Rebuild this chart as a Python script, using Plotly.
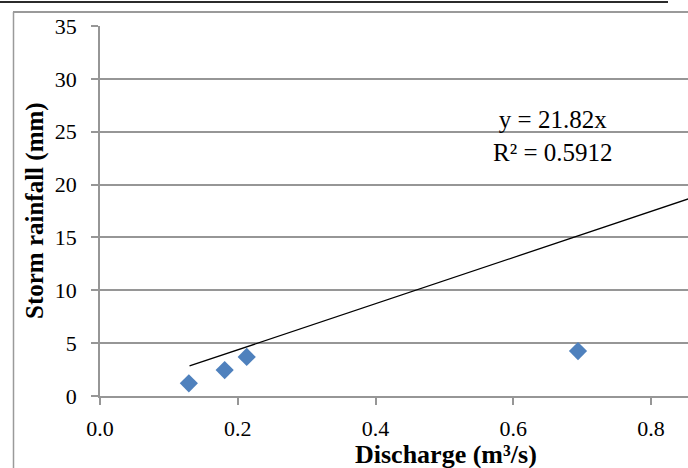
import plotly.graph_objects as go

# Data
discharge = [0.129, 0.181, 0.213, 0.694]
rainfall = [1.2, 2.45, 3.7, 4.25]
trend_x = [0.13, 0.86]
trend_y = [2.84, 18.77]
eq_text = "y = 21.82x<br>R² = 0.5912"
x_ticks = [0.0, 0.2, 0.4, 0.6, 0.8]
y_ticks = [0, 5, 10, 15, 20, 25, 30, 35]

W, H = 688, 468
L, R, T, B = 100, 0, 26, 72
pw, ph = W - L - R, H - T - B

def px_x(p):
    return (p - L) / pw

def px_y(p):
    return (H - B - p) / ph

font_family = "Liberation Serif, Times New Roman, serif"
grid_col = "#969696"

fig = go.Figure()
fig.add_trace(go.Scatter(
    x=trend_x, y=trend_y, mode="lines",
    line=dict(color="#000000", width=1.3),
    showlegend=False, hoverinfo="skip"))
fig.add_trace(go.Scatter(
    x=discharge, y=rainfall, mode="markers",
    marker=dict(symbol="diamond", size=14, color="#4F81BD",
                line=dict(width=0)),
    showlegend=False))

fig.update_layout(
    width=W, height=H,
    margin=dict(l=L, r=R, t=T, b=B, pad=0),
    paper_bgcolor="white", plot_bgcolor="white",
    font=dict(family=font_family, color="#000000", size=22),
    xaxis=dict(range=[0, 0.8537], tickvals=x_ticks, tickformat=".1f",
               showgrid=False, zeroline=False, showline=True,
               linecolor=grid_col, linewidth=1.5,
               ticks="outside", ticklen=7, tickcolor=grid_col, tickwidth=1.5,
               tickfont=dict(size=22, family=font_family), ticklabelstandoff=5),
    yaxis=dict(range=[0, 35], tickvals=y_ticks,
               showgrid=True, gridcolor=grid_col, gridwidth=1.6,
               zeroline=False, showline=True,
               linecolor=grid_col, linewidth=1.5,
               ticks="outside", ticklen=7, tickcolor=grid_col, tickwidth=1.5,
               tickfont=dict(size=22, family=font_family), ticklabelstandoff=10),
    shapes=[
        dict(type="line", xref="paper", yref="paper",
             x0=px_x(0), x1=px_x(668), y0=px_y(2), y1=px_y(2),
             line=dict(color="#2b2b2b", width=2.2)),
        dict(type="rect", xref="paper", yref="paper",
             x0=px_x(13), x1=px_x(688), y0=px_y(13), y1=px_y(11),
             fillcolor="#9a9a9a", line=dict(width=0)),
        dict(type="line", xref="paper", yref="paper",
             x0=px_x(13.5), x1=px_x(13.5), y0=px_y(12), y1=px_y(480),
             line=dict(color="#9a9a9a", width=1.5)),
    ],
    annotations=[
        dict(text=eq_text, x=(553 - L) / 688.75, y=24.6, xref="x", yref="y",
             showarrow=False, align="center",
             font=dict(size=25, family=font_family, color="#000000")),
        dict(text="<b>Discharge (m³/s)</b>", xref="paper", yref="paper",
             x=px_x(446), y=px_y(454), xanchor="center", yanchor="middle",
             showarrow=False,
             font=dict(size=26, family=font_family, color="#000000")),
        dict(text="<b>Storm rainfall (mm)</b>", xref="paper", yref="paper",
             x=px_x(35), y=px_y(211), xanchor="center", yanchor="middle",
             textangle=-90, showarrow=False,
             font=dict(size=25, family=font_family, color="#000000")),
    ],
)

fig.write_html("out.html", config={"displayModeBar": False},
               post_script="document.body.style.margin='0';")
